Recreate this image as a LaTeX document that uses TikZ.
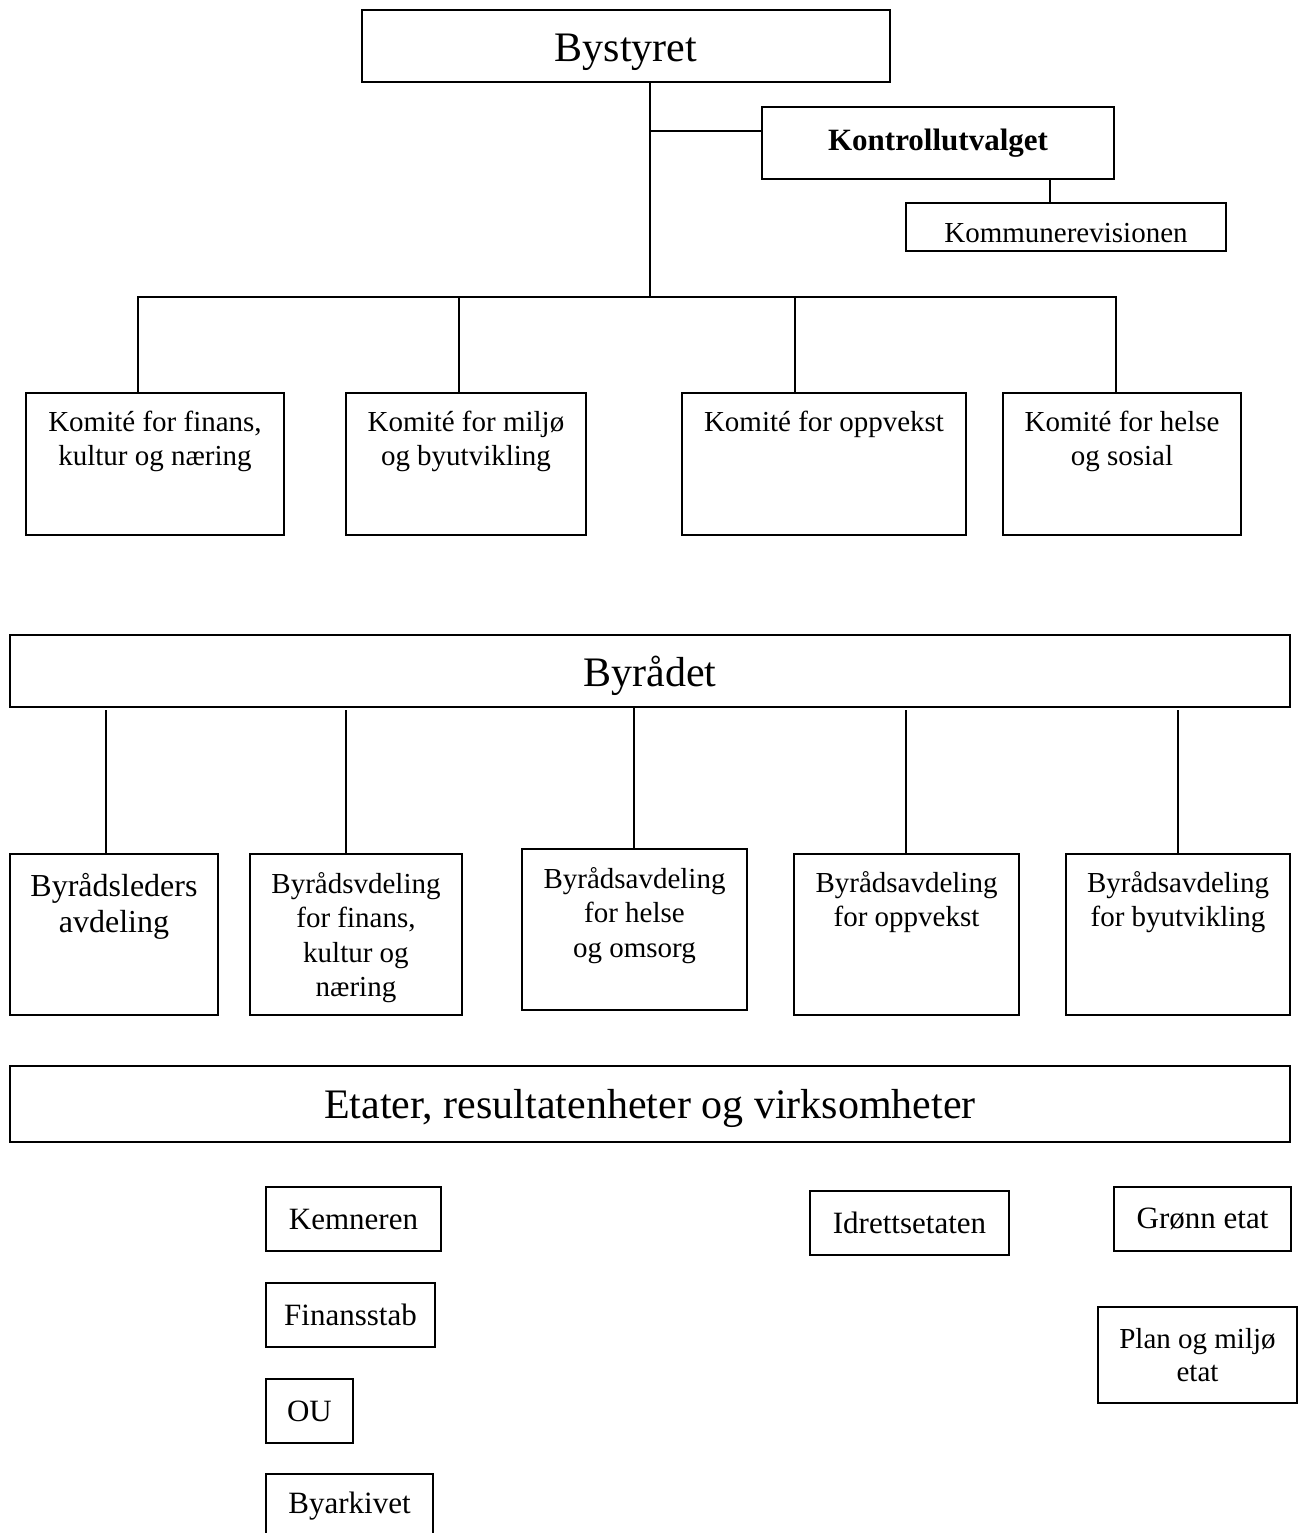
\documentclass[tikz,border=0pt]{standalone}
\usepackage{fontspec}
\setmainfont{Liberation Serif}
\newcommand\fsBig{\fontsize{42}{48}\selectfont}
\newcommand\fsMid{\fontsize{29}{34.5}\selectfont}
\newcommand\fsLead{\fontsize{32}{36.5}\selectfont}
\newcommand\fsEtat{\fontsize{31}{35}\selectfont}
\newcommand\fsPlan{\fontsize{29}{32.5}\selectfont}
\newcommand\fsKon{\fontsize{31}{35}\selectfont\bfseries}
\tikzset{
  box/.style={draw, line width=1.5pt, inner sep=0pt, outer sep=0pt, anchor=north west, align=center},
  toplab/.style={anchor=base, align=center, inner sep=0pt, outer sep=0pt},
  link/.style={line width=1.5pt}
}
\begin{document}
\begin{tikzpicture}[x=1pt,y=-1pt]
\useasboundingbox (0,0) rectangle (1298,1533);
\clip (0,0) rectangle (1298,1533);
\fill[white] (0,0) rectangle (1298,1533);

% top level
\node[box, minimum width=528, minimum height=72, font=\fsBig, text height=32pt, text depth=0pt] (bys) at (362,10) {Bystyret};
\node[box, minimum width=352, minimum height=72, font=\fsKon] (kon) at (762,107) {Kontrollutvalget};
\node[box, minimum width=320, minimum height=48, font=\fsMid, text height=30pt, text depth=0pt] (kom) at (906,203) {Kommunerevisionen};

% committees
\node[box, minimum width=258, minimum height=142,
  label={[toplab, font=\fsMid, yshift=-72.5pt]north:{Komité for finans,\\kultur og næring}}] (k1) at (26,393) {};
\node[box, minimum width=240, minimum height=142,
  label={[toplab, font=\fsMid, yshift=-72.5pt]north:{Komité for miljø\\og byutvikling}}] (k2) at (346,393) {};
\node[box, minimum width=284, minimum height=142,
  label={[toplab, font=\fsMid, yshift=-38pt]north:{Komité for oppvekst}}] (k3) at (682,393) {};
\node[box, minimum width=238, minimum height=142,
  label={[toplab, font=\fsMid, yshift=-72.5pt]north:{Komité for helse\\og sosial}}] (k4) at (1003,393) {};

% Byrådet
\node[box, minimum width=1280, minimum height=72, font=\fsBig, text height=30pt, text depth=0pt] (byr) at (10,635) {Byrådet};

\node[box, minimum width=208, minimum height=161,
  label={[toplab, font=\fsLead, yshift=-78.5pt]north:{Byrådsleders\\avdeling}}] (b1) at (10,854) {};
\node[box, minimum width=212, minimum height=161,
  label={[toplab, font=\fsMid, yshift=-142.5pt]north:{Byrådsvdeling\\for finans,\\kultur og\\næring}}] (b2) at (250,854) {};
\node[box, minimum width=225, minimum height=161,
  label={[toplab, font=\fsMid, yshift=-108pt]north:{Byrådsavdeling\\for helse\\og omsorg}}] (b3) at (522,849) {};
\node[box, minimum width=225, minimum height=161,
  label={[toplab, font=\fsMid, yshift=-72.5pt]north:{Byrådsavdeling\\for oppvekst}}] (b4) at (794,854) {};
\node[box, minimum width=224, minimum height=161,
  label={[toplab, font=\fsMid, yshift=-72.5pt]north:{Byrådsavdeling\\for byutvikling}}] (b5) at (1066,854) {};

% Etater
\node[box, minimum width=1280, minimum height=76, font=\fsBig, text height=28pt, text depth=0pt] (eta) at (10,1066) {Etater, resultatenheter og virksomheter};

\node[box, minimum width=175, minimum height=64, font=\fsEtat] (kem) at (266,1187) {Kemneren};
\node[box, minimum width=169, minimum height=64, font=\fsEtat] (fin) at (266,1283) {Finansstab};
\node[box, minimum width=87, minimum height=64, font=\fsEtat] (ou) at (266,1379) {OU};
\node[box, minimum width=167, minimum height=64, font=\fsEtat] (bya) at (266,1474) {Byarkivet};
\node[box, minimum width=199, minimum height=64, font=\fsEtat] (idr) at (810,1191) {Idrettsetaten};
\node[box, minimum width=177, minimum height=64, font=\fsEtat] (gro) at (1114,1187) {Grønn etat};
\node[box, minimum width=199, minimum height=96, font=\fsPlan] (pla) at (1098,1307) {Plan og miljø\\etat};

% connectors, top part
\coordinate (bus) at (650,297);
\coordinate (kj) at (650,131);
\coordinate (kk) at (1050,179);
\coordinate (t1) at (138,297);
\coordinate (t2) at (459,297);
\coordinate (t3) at (795,297);
\coordinate (t4) at (1116,297);
\draw[link] (bus |- bys.south) -- (bus);
\draw[link] (kj) -- (kj -| kon.west);
\draw[link] (kk |- kon.south) -- (kk |- kom.north);
\draw[link] (t1 |- k1.north) -- (t1) -- (t4) -- (t4 |- k4.north);
\draw[link] (t2) -- (t2 |- k2.north);
\draw[link] (t3) -- (t3 |- k3.north);

% connectors, Byrådet
\coordinate (c1) at (106,710);
\coordinate (c2) at (346,710);
\coordinate (c3) at (634,707);
\coordinate (c4) at (906,710);
\coordinate (c5) at (1178,710);
\draw[link] (c1) -- (c1 |- b1.north);
\draw[link] (c2) -- (c2 |- b2.north);
\draw[link] (c3 |- byr.south) -- (c3 |- b3.north);
\draw[link] (c4) -- (c4 |- b4.north);
\draw[link] (c5) -- (c5 |- b5.north);
\end{tikzpicture}
\end{document}
